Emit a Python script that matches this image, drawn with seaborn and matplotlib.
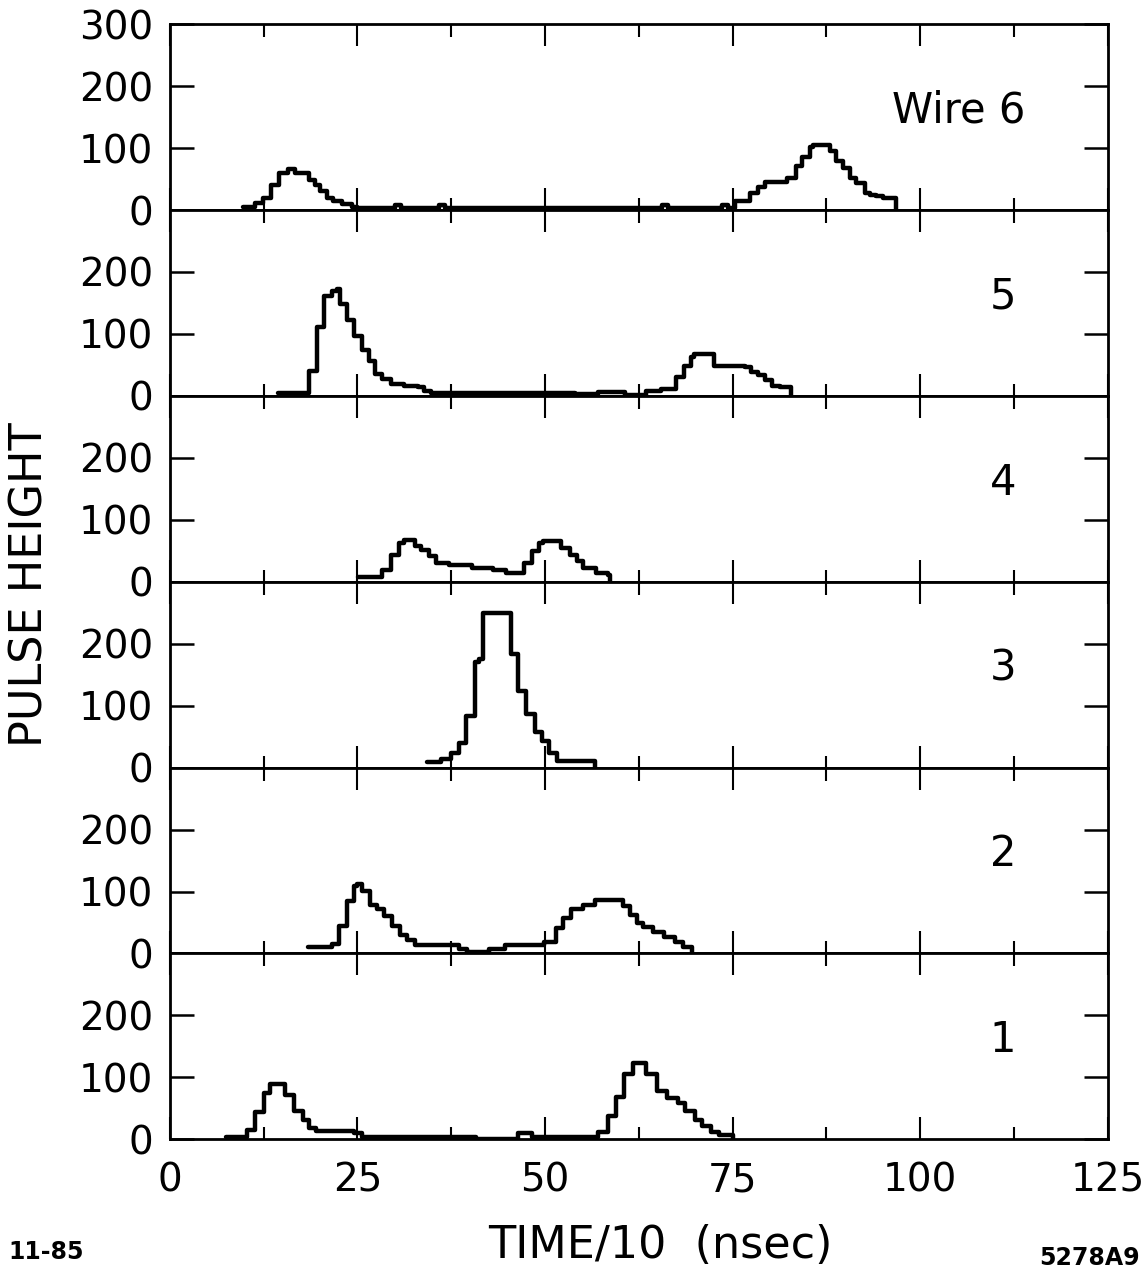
import seaborn as sns
import matplotlib.pyplot as plt
from matplotlib.ticker import MultipleLocator

# step start times (TIME/10, nsec) and pulse heights
wire1_t = [7.5, 10.3, 11.4, 12.6, 13.3, 15.4, 16.5, 17.7, 18.6, 19.5, 24.6, 25.6, 40.8, 46.4, 48.2,
           57.0, 58.4, 59.4, 60.5, 61.7, 63.5, 64.9, 66.3, 67.7, 68.6, 70.0, 70.9, 72.1, 73.2, 75.0]
wire1_h = [4, 15, 44, 75, 90, 72, 46, 32, 18, 14, 10, 4, 1, 10, 4,
           12, 38, 69, 106, 123, 106, 78, 66, 58, 46, 32, 21, 12, 7, 0]

wire2_t = [18.4, 21.6, 22.5, 23.6, 24.5, 24.9, 25.6, 26.7, 27.6, 28.5, 29.6, 30.7, 31.6, 32.7, 38.5,
           39.6, 42.5, 44.6, 49.9, 51.5, 52.4, 53.5, 55.0, 56.6, 60.4, 61.3, 62.2, 63.1, 64.4, 65.8,
           67.3, 68.4, 69.6]
wire2_h = [11, 16, 44, 85, 109, 112, 101, 79, 71, 60, 44, 30, 22, 14, 8,
           3, 8, 14, 19, 41, 57, 71, 79, 86, 77, 62, 50, 42, 35, 27,
           19, 11, 0]

wire3_t = [34.3, 36.1, 37.4, 38.5, 39.4, 40.6, 41.2, 41.7, 45.5, 46.4, 47.5, 48.7, 49.6, 50.5, 51.6, 56.6]
wire3_h = [9, 14, 23, 40, 83, 170, 175, 250, 184, 124, 86, 57, 43, 23, 11, 0]

wire4_t = [25.1, 28.3, 29.4, 30.5, 31.2, 32.7, 33.4, 34.5, 35.4, 37.2, 40.3, 43.0, 44.8, 47.2, 48.3,
           49.2, 49.7, 52.1, 53.3, 54.2, 55.0, 56.8, 58.4, 58.7]
wire4_h = [8, 19, 44, 63, 68, 57, 52, 41, 30, 27, 22, 19, 14, 30, 49,
           63, 66, 55, 44, 33, 22, 14, 11, 0]

wire5_t = [14.4, 18.5, 19.6, 20.5, 21.6, 22.3, 22.7, 23.6, 24.5, 25.6, 26.5, 27.4, 28.3, 29.4, 31.2,
           33.0, 33.9, 34.8, 54.0, 57.0, 60.7, 63.5, 65.4, 67.4, 68.5, 69.4, 69.8, 72.5, 76.7, 77.5,
           78.4, 79.3, 80.2, 81.3, 82.8]
wire5_h = [5, 41, 112, 161, 169, 172, 148, 123, 96, 74, 57, 36, 27, 19, 16,
           14, 8, 5, 3, 6, 1, 8, 11, 30, 49, 63, 67, 49, 46, 38,
           33, 25, 16, 14, 0]

wire6_t = [9.8, 11.3, 12.4, 13.5, 14.6, 15.8, 16.7, 18.5, 19.4, 20.0, 20.9, 21.8, 23.0, 24.3, 25.0,
           30.0, 30.8, 35.8, 36.6, 65.6, 66.4, 73.6, 74.4, 75.3, 77.3, 78.4, 79.3, 82.2, 83.5, 84.2,
           85.3, 85.7, 88.0, 88.8, 89.7, 90.6, 91.5, 92.6, 93.3, 94.1, 95.0, 96.8]
wire6_h = [5, 11, 19, 41, 60, 67, 60, 49, 41, 30, 19, 14, 10, 5, 3,
           8, 3, 8, 3, 8, 3, 8, 3, 14, 27, 38, 46, 52, 71, 85,
           101, 105, 96, 79, 68, 52, 44, 27, 25, 22, 19, 0]

panel_labels = ['Wire 6', '5', '4', '3', '2', '1']
traces = [(wire6_t, wire6_h), (wire5_t, wire5_h), (wire4_t, wire4_h),
          (wire3_t, wire3_h), (wire2_t, wire2_h), (wire1_t, wire1_h)]
x_ticks = [0, 25, 50, 75, 100, 125]

sns.set_theme(style='ticks')
plt.rcParams['font.family'] = ['DejaVu Sans']
plt.rcParams['text.color'] = 'black'
plt.rcParams['xtick.color'] = 'black'
plt.rcParams['ytick.color'] = 'black'
plt.rcParams['xtick.labelcolor'] = 'black'
plt.rcParams['ytick.labelcolor'] = 'black'

fig, axs = plt.subplots(6, 1, figsize=(11.48, 12.73), dpi=100, sharex=True)
fig.subplots_adjust(left=0.148, right=0.965, top=0.981, bottom=0.105, hspace=0)

for i, (ax, (t, h), lab) in enumerate(zip(axs, traces, panel_labels)):
    sns.lineplot(x=t, y=h, ax=ax, color='black', linewidth=3.2,
                 drawstyle='steps-post', estimator=None, sort=False)
    ax.set_xlim(0, 125)
    ax.set_ylim(0, 300)
    ax.set_xticks(x_ticks)
    ax.xaxis.set_minor_locator(MultipleLocator(12.5))
    ax.set_yticks([0, 100, 200, 300] if i == 0 else [0, 100, 200])
    ax.tick_params(axis='x', which='major', direction='in', top=True, bottom=True,
                   length=16, width=1.5, labelsize=28, pad=16, colors='black')
    ax.tick_params(axis='x', which='minor', direction='in', top=True, bottom=True,
                   length=9, width=1.5, colors='black')
    ax.tick_params(axis='y', direction='in', left=True, right=True,
                   length=17, width=1.8, labelsize=28, pad=12, colors='black')
    for sp in ax.spines.values():
        sp.set_linewidth(2)
        sp.set_color('black')
    ax.set_xlabel('')
    ax.set_ylabel('')
    if i == 0:
        ax.text(114, 160, lab, ha='right', va='center', fontsize=30, color='black')
    else:
        ax.text(111, 160, lab, ha='center', va='center', fontsize=30, color='black')

fig.text(30 / 1148, 1 - 585 / 1273, 'PULSE HEIGHT', rotation=90, fontsize=32,
         ha='center', va='center', color='black')
fig.text(660 / 1148, 1 - 1245 / 1273, 'TIME/10  (nsec)', fontsize=32,
         ha='center', va='center', color='black')
fig.text(8 / 1148, 1 - 1252 / 1273, '11-85', fontsize=17, fontweight='bold',
         ha='left', va='center', color='black')
fig.text(1140 / 1148, 1 - 1258 / 1273, '5278A9', fontsize=17, fontweight='bold',
         ha='right', va='center', color='black')

fig.savefig('out.png', dpi=100)
